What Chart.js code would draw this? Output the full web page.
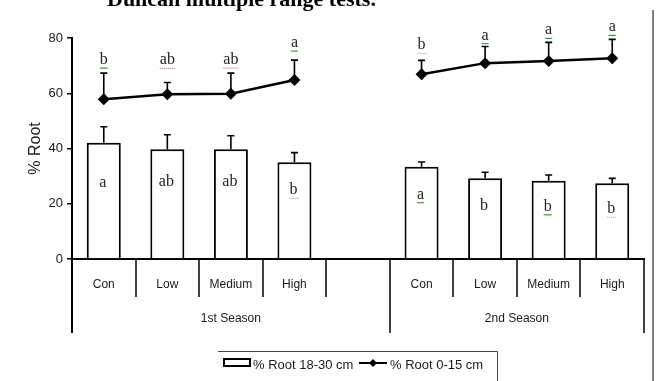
<!DOCTYPE html>
<html>
<head>
<meta charset="utf-8">
<script src="https://cdn.jsdelivr.net/npm/chart.js@4/dist/chart.umd.min.js"></script>
<style>
  html, body { margin: 0; padding: 0; background: #fff; }
  #wrap { width: 657px; height: 381px; }
</style>
</head>
<body>
<div id="wrap"><canvas id="c" width="657" height="381"></canvas></div>
<script>
// Treatments per season; the empty slot separates the two seasons
const categories = ['Con', 'Low', 'Medium', 'High', '', 'Con', 'Low', 'Medium', 'High'];
const seasonNames = ['1st Season', '2nd Season'];
const seasonFirst = [0, 5];   // first category index of each season group
const seasonLast  = [4, 8];   // last category index of each season group
const yTicks = [0, 20, 40, 60, 80];

// % Root 18-30 cm (bars): means and standard deviations
const deepMean = [42.1, 39.7, 39.7, 35.0, null, 33.4, 29.2, 28.3, 27.4];
const deepSD   = [5.8, 5.3, 4.9, 3.5, null, 1.7, 2.2, 2.1, 1.8];
// % Root 0-15 cm (line): means and standard deviations
const topMean  = [57.8, 59.6, 59.8, 64.8, null, 66.9, 70.9, 71.7, 72.7];
const topSD    = [9.5, 4.3, 7.5, 7.2, null, 5.0, 6.0, 6.7, 6.8];

// Duncan letters
const deepLetters = ['a', 'ab', 'ab', 'b', '', 'a', 'b', 'b', 'b'];
const topLetters  = ['b', 'ab', 'ab', 'a', '', 'b', 'a', 'a', 'a'];

const seriesNames = ['% Root 18-30 cm', '% Root 0-15 cm'];
const heading = 'Duncan multiple range tests.';

// letter placement (px): line letters sit above the whisker cap, bar letters below the bar top
const topLetterGap  = [9, 18, 9, 13, 0, 11, 7, 8, 8];
const deepLetterGap = [44, 37, 37, 32, 0, 32, 32, 30, 30];
// proofing squiggles under some letters: g = green line, r = red dots, d = grey dots
const topMarks  = ['g', 'r', 'r', 'g', '', 'd', 'g', 'g', 'g'];
const deepMarks = ['', '', '', 'd', '', 'g', '', 'g', 'd'];

const SANS = '"Liberation Sans", Arial, sans-serif';
const SERIF = '"Liberation Serif", "Times New Roman", serif';

function squiggle(ctx, cx, y, w, kind) {
  if (!kind) return;
  ctx.save();
  if (kind === 'g') {
    ctx.strokeStyle = '#3f9a3f'; ctx.lineWidth = 1.2;
    ctx.beginPath(); ctx.moveTo(cx - w / 2, y); ctx.lineTo(cx + w / 2, y); ctx.stroke();
  } else {
    ctx.fillStyle = kind === 'r' ? '#d65a5a' : '#9a9a9a';
    for (let px = cx - w / 2; px <= cx + w / 2; px += 2) ctx.fillRect(px, y - 0.5, 1, 1);
  }
  ctx.restore();
}

const decorations = {
  id: 'decorations',
  beforeDraw(chart) {
    const ctx = chart.ctx;
    ctx.save();
    ctx.fillStyle = '#fff';
    ctx.fillRect(0, 0, chart.width, chart.height);
    ctx.restore();
  },
  afterDatasetsDraw(chart) {
    const { ctx, scales: { x, y } } = chart;
    ctx.save();
    ctx.strokeStyle = '#000';
    ctx.lineWidth = 1.6;
    const whisker = (i, mean, sd) => {
      const px = x.getPixelForValue(i);
      const y0 = y.getPixelForValue(mean);
      const y1 = y.getPixelForValue(mean + sd);
      ctx.beginPath();
      ctx.moveTo(px, y0); ctx.lineTo(px, y1);
      ctx.moveTo(px - 3.5, y1); ctx.lineTo(px + 3.5, y1);
      ctx.stroke();
      return y1;
    };
    ctx.font = '16px ' + SERIF;
    ctx.textAlign = 'center';
    ctx.textBaseline = 'alphabetic';
    categories.forEach((c, i) => {
      if (deepMean[i] == null) return;
      const px = x.getPixelForValue(i);
      whisker(i, deepMean[i], deepSD[i]);
      const barTop = y.getPixelForValue(deepMean[i]);
      const by = barTop + deepLetterGap[i];
      ctx.fillStyle = '#222';
      ctx.fillText(deepLetters[i], px - 1, by);
      squiggle(ctx, px - 1, by + 4, ctx.measureText(deepLetters[i]).width, deepMarks[i]);

      const cap = whisker(i, topMean[i], topSD[i]);
      const ty = cap - topLetterGap[i];
      ctx.fillStyle = '#222';
      ctx.fillText(topLetters[i], px, ty);
      squiggle(ctx, px, ty + 4, ctx.measureText(topLetters[i]).width, topMarks[i]);
    });
    ctx.restore();
  },
  afterDraw(chart) {
    const { ctx, chartArea: area, scales: { x } } = chart;
    const step = x.getPixelForValue(1) - x.getPixelForValue(0);
    const edge = i => x.getPixelForValue(i) - step / 2;
    const bottom = area.bottom;
    ctx.save();
    ctx.strokeStyle = '#000';

    // category separators below the axis; season boundaries run longer
    const longEdges = [seasonFirst[0], seasonFirst[1], seasonLast[1] + 1];
    for (let i = 0; i <= categories.length; i++) {
      const ex = Math.round(edge(i));
      const isLong = longEdges.includes(i);
      ctx.lineWidth = i === 0 ? 2 : 1.5;
      ctx.beginPath();
      ctx.moveTo(ex, bottom);
      ctx.lineTo(ex, isLong ? 333 : 297);
      ctx.stroke();
    }

    // season captions
    ctx.fillStyle = '#1a1a1a';
    ctx.font = '12px ' + SANS;
    ctx.textAlign = 'center';
    ctx.textBaseline = 'middle';
    seasonNames.forEach((s, k) => {
      const cx = (edge(seasonFirst[k]) + edge(seasonLast[k] + 1)) / 2;
      ctx.fillText(s, cx, 319);
    });

    // legend
    ctx.strokeStyle = '#444';
    ctx.lineWidth = 1;
    ctx.beginPath();
    ctx.moveTo(218, 351.5); ctx.lineTo(497.5, 351.5); ctx.lineTo(497.5, 381);
    ctx.stroke();
    ctx.fillStyle = '#fff';
    ctx.strokeStyle = '#000';
    ctx.lineWidth = 2;
    ctx.fillRect(224, 359, 26, 7);
    ctx.strokeRect(224, 359, 26, 7);
    ctx.fillStyle = '#1a1a1a';
    ctx.font = '13px ' + SANS;
    ctx.textAlign = 'left';
    ctx.fillText(seriesNames[0], 253, 365);
    ctx.beginPath();
    ctx.moveTo(359, 363); ctx.lineTo(387, 363);
    ctx.stroke();
    ctx.fillStyle = '#000';
    ctx.beginPath();
    ctx.moveTo(373, 359); ctx.lineTo(377, 363); ctx.lineTo(373, 367); ctx.lineTo(369, 363);
    ctx.closePath(); ctx.fill();
    ctx.fillStyle = '#1a1a1a';
    ctx.fillText(seriesNames[1], 390, 365);

    // frame line on the right
    ctx.strokeStyle = '#555';
    ctx.lineWidth = 1.5;
    ctx.beginPath(); ctx.moveTo(653, 10); ctx.lineTo(653, 381); ctx.stroke();

    // heading above the figure
    ctx.fillStyle = '#000';
    ctx.font = 'bold 22px ' + SERIF;
    ctx.textAlign = 'left';
    ctx.textBaseline = 'alphabetic';
    ctx.fillText(heading, 107, 5.5);
    ctx.restore();
  }
};

// y axis line continues down past the category labels
const axisTail = {
  id: 'axisTail',
  afterDraw(chart) {
    const { ctx, chartArea: area } = chart;
    ctx.save();
    ctx.strokeStyle = '#000';
    ctx.lineWidth = 2;
    ctx.beginPath(); ctx.moveTo(area.left, area.bottom); ctx.lineTo(area.left, 333); ctx.stroke();
    ctx.restore();
  }
};

new Chart(document.getElementById('c'), {
  data: {
    labels: categories,
    datasets: [
      {
        type: 'bar',
        label: seriesNames[0],
        data: deepMean,
        backgroundColor: '#fff',
        borderColor: '#000',
        borderWidth: 2,
        barPercentage: 0.535,
        categoryPercentage: 1.0,
        order: 2
      },
      {
        type: 'line',
        label: seriesNames[1],
        data: topMean,
        borderColor: '#000',
        borderWidth: 2.5,
        pointStyle: 'rectRot',
        pointRadius: 6,
        pointBackgroundColor: '#000',
        pointBorderColor: '#000',
        pointBorderWidth: 0,
        spanGaps: false,
        tension: 0,
        order: 1
      }
    ]
  },
  options: {
    responsive: false,
    animation: false,
    devicePixelRatio: 1,
    events: [],
    layout: { padding: { top: 38, left: 0, right: 13, bottom: 82 } },
    plugins: { legend: { display: false }, tooltip: { enabled: false } },
    scales: {
      x: {
        offset: true,
        grid: { display: false },
        border: { display: true, color: '#000', width: 2 },
        ticks: { font: { family: SANS, size: 12 }, color: '#1a1a1a', padding: 10, maxRotation: 0, autoSkip: false },
        afterFit: s => { s.height = 40; }
      },
      y: {
        min: 0,
        max: 80,
        afterBuildTicks: s => { s.ticks = yTicks.map(v => ({ value: v })); },
        grid: { drawOnChartArea: false, drawTicks: true, tickLength: 5, color: '#000', lineWidth: 1.5 },
        border: { display: true, color: '#000', width: 2 },
        ticks: { font: { family: SANS, size: 13 }, color: '#1a1a1a', padding: 4 },
        title: { display: true, text: '% Root', font: { family: SANS, size: 16 }, color: '#1a1a1a', padding: { top: 26, bottom: 0 } },
        afterFit: s => { s.width = 72; }
      }
    }
  },
  plugins: [decorations, axisTail]
});
</script>
</body>
</html>
